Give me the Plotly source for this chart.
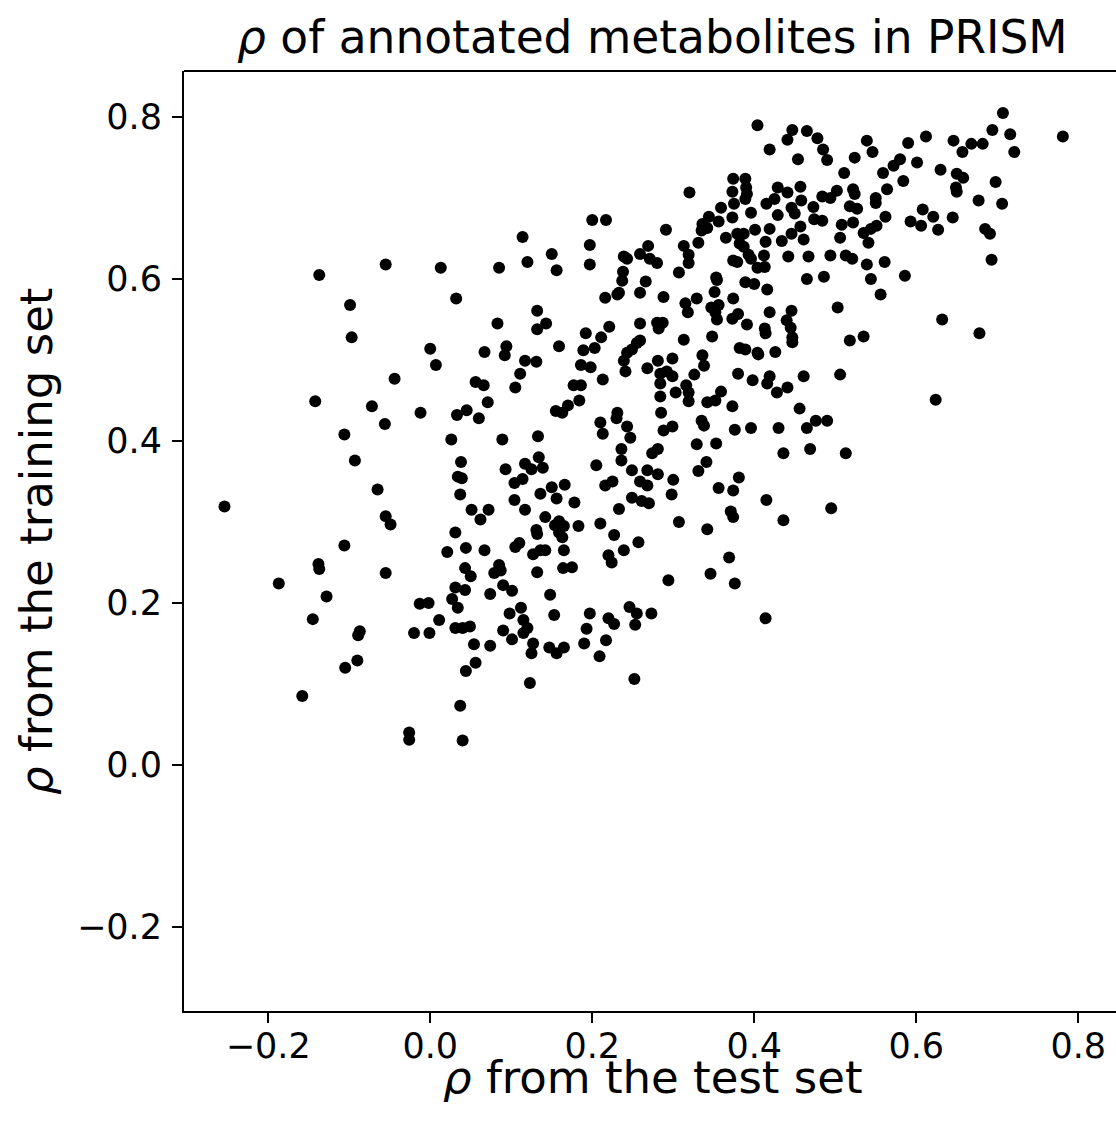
import plotly.graph_objects as go

rho_test = [
    -0.137, -0.055, -0.099, -0.097, 0.000, -0.044, -0.142, -0.072, -0.012, -0.056,
    -0.106, -0.093, -0.065, -0.254, -0.055, -0.049, -0.106, -0.138, -0.137, -0.055,
    -0.187, -0.128, -0.013, -0.002, -0.145, -0.087, -0.089, -0.020, -0.001, -0.090,
    -0.105, -0.158, -0.026, -0.026, 0.114, 0.200, 0.217, 0.197, 0.150, 0.239,
    0.243, 0.259, 0.013, 0.085, 0.120, 0.156, 0.197, 0.238, 0.237, 0.233,
    0.231, 0.216, 0.259, 0.032, 0.132, 0.143, 0.132, 0.083, 0.221, 0.192,
    0.211, 0.259, 0.259, 0.007, 0.067, 0.094, 0.092, 0.159, 0.189, 0.203,
    0.117, 0.131, 0.186, 0.198, 0.243, 0.249, 0.239, 0.241, 0.111, 0.056,
    0.066, 0.105, 0.213, 0.177, 0.186, 0.184, 0.071, 0.170, 0.155, 0.163,
    0.045, 0.033, 0.060, 0.231, 0.230, 0.210, 0.243, 0.213, 0.247, 0.026,
    0.089, 0.133, 0.236, 0.236, 0.038, 0.134, 0.117, 0.125, 0.139, 0.205,
    0.249, 0.093, 0.034, 0.039, 0.114, 0.104, 0.150, 0.166, 0.216, 0.225,
    0.037, 0.136, 0.156, 0.104, 0.178, 0.249, 0.051, 0.072, 0.117, 0.233,
    0.062, 0.142, 0.159, 0.165, 0.159, 0.163, 0.154, 0.183, 0.131, 0.132,
    0.210, 0.227, 0.257, 0.031, 0.021, 0.044, 0.067, 0.105, 0.110, 0.127,
    0.136, 0.142, 0.165, 0.220, 0.224, 0.239, 0.043, 0.050, 0.085, 0.087,
    0.079, 0.132, 0.164, 0.175, 0.031, 0.043, 0.074, 0.090, 0.101, 0.148,
    0.027, 0.034, 0.011, 0.031, 0.040, 0.049, 0.098, 0.112, 0.115, 0.120,
    0.115, 0.090, 0.101, 0.054, 0.074, 0.127, 0.125, 0.147, 0.156, 0.165,
    0.153, 0.197, 0.193, 0.190, 0.220, 0.227, 0.217, 0.209, 0.246, 0.255,
    0.253, 0.056, 0.044, 0.123, 0.252, 0.037, 0.040, 0.404, 0.447, 0.465,
    0.478, 0.441, 0.485, 0.490, 0.419, 0.454, 0.511, 0.374, 0.389, 0.390,
    0.391, 0.389, 0.373, 0.375, 0.320, 0.429, 0.441, 0.457, 0.425, 0.415,
    0.429, 0.458, 0.446, 0.450, 0.473, 0.484, 0.494, 0.502, 0.474, 0.484,
    0.518, 0.359, 0.396, 0.344, 0.356, 0.336, 0.335, 0.342, 0.373, 0.401,
    0.419, 0.457, 0.508, 0.446, 0.461, 0.434, 0.506, 0.291, 0.365, 0.379,
    0.387, 0.382, 0.387, 0.414, 0.331, 0.313, 0.269, 0.271, 0.280, 0.319,
    0.319, 0.393, 0.396, 0.412, 0.374, 0.379, 0.404, 0.413, 0.442, 0.467,
    0.494, 0.513, 0.307, 0.353, 0.354, 0.389, 0.400, 0.465, 0.486, 0.266,
    0.288, 0.351, 0.416, 0.329, 0.374, 0.315, 0.318, 0.347, 0.356, 0.352,
    0.354, 0.380, 0.373, 0.419, 0.446, 0.440, 0.445, 0.447, 0.447, 0.503,
    0.391, 0.413, 0.414, 0.280, 0.287, 0.282, 0.348, 0.313, 0.255, 0.518,
    0.382, 0.389, 0.404, 0.405, 0.426, 0.268, 0.281, 0.299, 0.284, 0.292,
    0.299, 0.284, 0.336, 0.338, 0.326, 0.380, 0.398, 0.419, 0.416, 0.428,
    0.441, 0.461, 0.506, 0.316, 0.319, 0.319, 0.303, 0.284, 0.342, 0.352,
    0.359, 0.373, 0.456, 0.285, 0.335, 0.338, 0.288, 0.299, 0.376, 0.396,
    0.430, 0.465, 0.476, 0.490, 0.329, 0.353, 0.274, 0.281, 0.436, 0.469,
    0.513, 0.341, 0.331, 0.268, 0.259, 0.268, 0.281, 0.300, 0.298, 0.381,
    0.356, 0.374, 0.415, 0.495, 0.261, 0.270, 0.371, 0.374, 0.307, 0.342,
    0.436, 0.369, 0.294, 0.346, 0.376, 0.273, 0.414, 0.707, 0.694, 0.716,
    0.721, 0.781, 0.646, 0.657, 0.668, 0.682, 0.612, 0.590, 0.539, 0.546,
    0.524, 0.580, 0.572, 0.559, 0.601, 0.630, 0.650, 0.658, 0.649, 0.650,
    0.698, 0.584, 0.564, 0.522, 0.524, 0.550, 0.550, 0.677, 0.706, 0.527,
    0.608, 0.621, 0.645, 0.562, 0.593, 0.606, 0.627, 0.522, 0.551, 0.544,
    0.535, 0.541, 0.685, 0.691, 0.521, 0.539, 0.544, 0.561, 0.586, 0.693,
    0.556, 0.632, 0.678, 0.535, 0.624,
]

rho_train = [
    0.605, 0.618, 0.568, 0.528, 0.514, 0.477, 0.449, 0.443, 0.435, 0.421,
    0.408, 0.376, 0.340, 0.319, 0.307, 0.297, 0.271, 0.248, 0.242, 0.237,
    0.224, 0.208, 0.199, 0.200, 0.180, 0.165, 0.160, 0.163, 0.163, 0.129,
    0.120, 0.085, 0.040, 0.031, 0.652, 0.673, 0.673, 0.642, 0.631, 0.628,
    0.625, 0.631, 0.614, 0.614, 0.621, 0.611, 0.618, 0.609, 0.598, 0.583,
    0.581, 0.577, 0.583, 0.576, 0.561, 0.545, 0.538, 0.545, 0.541, 0.533,
    0.528, 0.545, 0.524, 0.494, 0.510, 0.517, 0.506, 0.517, 0.512, 0.515,
    0.499, 0.498, 0.494, 0.491, 0.509, 0.513, 0.499, 0.486, 0.483, 0.473,
    0.469, 0.466, 0.476, 0.469, 0.469, 0.450, 0.448, 0.444, 0.437, 0.435,
    0.438, 0.432, 0.428, 0.435, 0.428, 0.423, 0.418, 0.409, 0.404, 0.402,
    0.402, 0.406, 0.390, 0.376, 0.374, 0.380, 0.372, 0.365, 0.367, 0.370,
    0.364, 0.365, 0.356, 0.354, 0.353, 0.348, 0.343, 0.346, 0.345, 0.350,
    0.334, 0.335, 0.329, 0.327, 0.324, 0.330, 0.315, 0.315, 0.315, 0.316,
    0.303, 0.306, 0.301, 0.295, 0.287, 0.281, 0.296, 0.295, 0.290, 0.285,
    0.298, 0.284, 0.275, 0.287, 0.263, 0.268, 0.265, 0.269, 0.274, 0.260,
    0.265, 0.265, 0.265, 0.259, 0.250, 0.265, 0.243, 0.233, 0.247, 0.240,
    0.237, 0.238, 0.243, 0.244, 0.219, 0.216, 0.211, 0.222, 0.215, 0.210,
    0.205, 0.194, 0.179, 0.169, 0.169, 0.171, 0.187, 0.194, 0.179, 0.169,
    0.163, 0.166, 0.155, 0.149, 0.147, 0.150, 0.138, 0.145, 0.138, 0.145,
    0.185, 0.187, 0.168, 0.150, 0.181, 0.174, 0.154, 0.134, 0.195, 0.187,
    0.173, 0.126, 0.116, 0.101, 0.106, 0.073, 0.030, 0.790, 0.784, 0.783,
    0.774, 0.772, 0.760, 0.747, 0.760, 0.748, 0.731, 0.724, 0.724, 0.713,
    0.705, 0.699, 0.708, 0.693, 0.707, 0.713, 0.707, 0.714, 0.699, 0.693,
    0.679, 0.697, 0.688, 0.681, 0.689, 0.702, 0.700, 0.709, 0.674, 0.672,
    0.690, 0.688, 0.682, 0.677, 0.671, 0.668, 0.660, 0.663, 0.676, 0.661,
    0.662, 0.665, 0.667, 0.656, 0.649, 0.647, 0.651, 0.661, 0.651, 0.656,
    0.656, 0.644, 0.640, 0.646, 0.645, 0.641, 0.641, 0.625, 0.620, 0.630,
    0.620, 0.630, 0.625, 0.629, 0.623, 0.621, 0.614, 0.615, 0.628, 0.628,
    0.629, 0.629, 0.608, 0.602, 0.599, 0.596, 0.594, 0.600, 0.603, 0.597,
    0.578, 0.584, 0.587, 0.576, 0.576, 0.570, 0.559, 0.565, 0.568, 0.559,
    0.550, 0.557, 0.551, 0.559, 0.561, 0.549, 0.540, 0.528, 0.522, 0.565,
    0.544, 0.539, 0.533, 0.546, 0.546, 0.539, 0.529, 0.525, 0.521, 0.524,
    0.515, 0.513, 0.509, 0.507, 0.510, 0.490, 0.499, 0.502, 0.483, 0.486,
    0.480, 0.471, 0.506, 0.493, 0.482, 0.483, 0.475, 0.480, 0.471, 0.460,
    0.466, 0.480, 0.482, 0.469, 0.460, 0.449, 0.460, 0.455, 0.448, 0.450,
    0.461, 0.443, 0.440, 0.435, 0.425, 0.419, 0.413, 0.418, 0.414, 0.416,
    0.416, 0.416, 0.425, 0.425, 0.396, 0.397, 0.385, 0.390, 0.385, 0.390,
    0.385, 0.374, 0.363, 0.364, 0.350, 0.345, 0.359, 0.352, 0.334, 0.355,
    0.342, 0.339, 0.327, 0.317, 0.326, 0.323, 0.313, 0.306, 0.300, 0.291,
    0.302, 0.256, 0.228, 0.236, 0.224, 0.187, 0.181, 0.805, 0.784, 0.779,
    0.757, 0.776, 0.771, 0.757, 0.767, 0.767, 0.776, 0.768, 0.771, 0.757,
    0.750, 0.748, 0.740, 0.731, 0.744, 0.735, 0.730, 0.725, 0.713, 0.708,
    0.720, 0.721, 0.711, 0.711, 0.705, 0.700, 0.694, 0.697, 0.693, 0.687,
    0.686, 0.677, 0.676, 0.677, 0.671, 0.666, 0.661, 0.670, 0.666, 0.662,
    0.657, 0.645, 0.662, 0.656, 0.625, 0.618, 0.600, 0.621, 0.604, 0.624,
    0.581, 0.550, 0.533, 0.529, 0.451,
]

tick_vals = [-0.2, 0.0, 0.2, 0.4, 0.6, 0.8]
tick_text = ["\u22120.2", "0.0", "0.2", "0.4", "0.6", "0.8"]

title_text = "<i>\u03c1</i> of annotated metabolites in PRISM"
xlabel_text = "<i>\u03c1</i> from the test set"
ylabel_text = "<i>\u03c1</i> from the training set"

FONT = "DejaVu Sans"

fig = go.Figure()
fig.add_trace(go.Scatter(
    x=rho_test, y=rho_train, mode="markers",
    marker=dict(color="black", size=12, line=dict(width=0)),
    showlegend=False, hoverinfo="skip",
))

axis_common = dict(
    tickvals=tick_vals, ticktext=tick_text,
    ticks="outside", ticklen=10, tickwidth=2, tickcolor="black",
    showline=True, linewidth=2, linecolor="black",
    showgrid=False, zeroline=False,
    tickfont=dict(family=FONT, size=35, color="black"),
)

fig.update_layout(
    width=1116, height=1125,
    margin=dict(l=184, r=0, t=71, b=114, pad=0),
    paper_bgcolor="white", plot_bgcolor="white",
    font=dict(family=FONT, color="black"),
    xaxis=dict(range=[-0.304, 0.8466], ticklabelstandoff=-7, **axis_common),
    yaxis=dict(range=[-0.304, 0.857], ticklabelstandoff=3, **axis_common),
    shapes=[dict(type="line", xref="paper", yref="paper", x0=0, x1=1, y0=1, y1=1,
                 line=dict(color="black", width=2))],
    annotations=[
        dict(text=title_text, xref="paper", yref="paper", x=0.503, y=1.036,
             xanchor="center", yanchor="middle", showarrow=False,
             font=dict(family=FONT, size=45.5, color="black")),
        dict(text=xlabel_text, xref="paper", yref="paper", x=0.5027, y=-0.0705,
             xanchor="center", yanchor="middle", showarrow=False,
             font=dict(family=FONT, size=45, color="black")),
        dict(text=ylabel_text, xref="paper", yref="paper", x=-0.1588, y=0.5,
             xanchor="center", yanchor="middle", showarrow=False, textangle=-90,
             font=dict(family=FONT, size=45, color="black")),
    ],
)

fig.write_html("out.html")
